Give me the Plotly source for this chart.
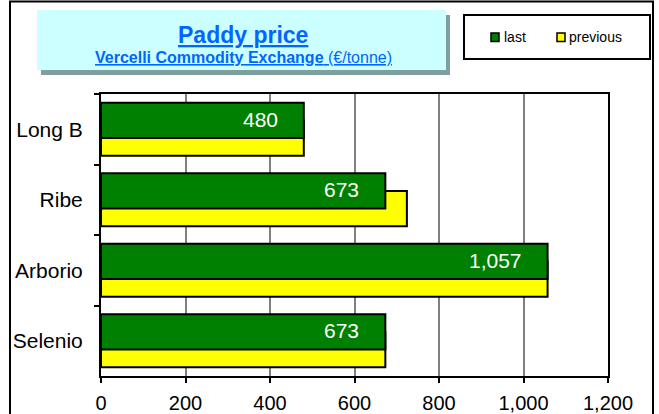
import plotly.graph_objects as go

# ---- data ----
categories = ["Long B", "Ribe", "Arborio", "Selenio"]
last_values = [480, 673, 1057, 673]
previous_values = [480, 724, 1057, 673]
x_tick_values = [0, 200, 400, 600, 800, 1000, 1200]
series_names = ["last", "previous"]
title_text = "Paddy price"
subtitle_bold = "Vercelli Commodity Exchange"
subtitle_unit = "(€/tonne)"

# ---- layout geometry (pixels) ----
W, H = 659, 414
ML, MR, MT, MB = 101, 51, 94, 38
PW, PH = W - ML - MR, H - MT - MB
FONT = "Arial, Liberation Sans, sans-serif"
GREEN = "#008000"
YELLOW = "#FFFF00"
BLUE = "#0066FF"


def fx(px):
    return (px - ML) / PW


def fy(py):
    return (H - MB - py) / PH


fig = go.Figure()
fig.add_trace(go.Bar(
    y=categories, x=previous_values, orientation="h", name=series_names[1],
    marker=dict(color=YELLOW, line=dict(color="black", width=2)),
    width=0.5, offset=-0.125, showlegend=False, hoverinfo="x+name",
))
fig.add_trace(go.Bar(
    y=categories, x=last_values, orientation="h", name=series_names[0],
    marker=dict(color=GREEN, line=dict(color="black", width=2)),
    width=0.5, offset=-0.375, showlegend=False, hoverinfo="x+name",
))

shapes = []
# outer chart frame
shapes.append(dict(type="rect", xref="paper", yref="paper",
                   x0=fx(10), x1=fx(653), y0=fy(1.5), y1=fy(420),
                   line=dict(color="black", width=2), fillcolor="rgba(0,0,0,0)"))
# title box shadow + box
shapes.append(dict(type="rect", xref="paper", yref="paper",
                   x0=fx(41), x1=fx(450), y0=fy(15), y1=fy(75),
                   line=dict(width=0), fillcolor="#7F9F9F"))
shapes.append(dict(type="rect", xref="paper", yref="paper",
                   x0=fx(37), x1=fx(446), y0=fy(10), y1=fy(70),
                   line=dict(width=0), fillcolor="#CCFFFF"))
# legend box
shapes.append(dict(type="rect", xref="paper", yref="paper",
                   x0=fx(464), x1=fx(650), y0=fy(15), y1=fy(59),
                   line=dict(color="black", width=2), fillcolor="white"))
# legend markers
for x0, col in [(491, GREEN), (557, YELLOW)]:
    shapes.append(dict(type="rect", xref="paper", yref="paper",
                       x0=fx(x0), x1=fx(x0 + 8), y0=fy(33), y1=fy(41.5),
                       line=dict(color="black", width=1.5), fillcolor=col))

annotations = []
annotations.append(dict(
    xref="paper", yref="paper", x=fx(243), y=fy(35), xanchor="center", yanchor="middle",
    text=f"<b>{title_text}</b>", showarrow=False,
    font=dict(family=FONT, size=23, color=BLUE, lineposition="under"),
))
annotations.append(dict(
    xref="paper", yref="paper", x=fx(243), y=fy(57), xanchor="center", yanchor="middle",
    text=f"<b>{subtitle_bold}</b> {subtitle_unit}", showarrow=False,
    font=dict(family=FONT, size=16, color=BLUE, lineposition="under"),
))
for x0, name in [(502, series_names[0]), (567, series_names[1])]:
    annotations.append(dict(
        xref="paper", yref="paper", x=fx(x0), y=fy(37), xanchor="left", yanchor="middle",
        text=name, showarrow=False, font=dict(family=FONT, size=14, color="black"),
    ))
# data labels on the "last" bars
for cat, v in zip(categories, last_values):
    annotations.append(dict(
        xref="x", yref="y", x=v, y=cat, xanchor="right", yanchor="middle",
        xshift=-24, yshift=10, text=f"{v:,}", showarrow=False,
        font=dict(family=FONT, size=21, color="white"),
    ))

fig.update_layout(
    width=W, height=H, autosize=False,
    margin=dict(l=ML, r=MR, t=MT, b=MB, pad=0),
    paper_bgcolor="white", plot_bgcolor="white",
    barmode="overlay",
    font=dict(family=FONT, color="black"),
    shapes=shapes, annotations=annotations,
    showlegend=False,
    xaxis=dict(
        range=[0, 1200], tickvals=x_tick_values, tickformat=",",
        showgrid=True, gridcolor="#808080", gridwidth=1.5,
        zeroline=False, showline=True, linecolor="black", linewidth=2, mirror=True,
        ticks="outside", ticklen=5, tickwidth=2, tickcolor="black",
        tickfont=dict(family=FONT, size=20, color="black"),
        ticklabelstandoff=3, fixedrange=True, automargin=False,
    ),
    yaxis=dict(
        categoryorder="array", categoryarray=categories, autorange="reversed",
        showgrid=False, zeroline=False,
        showline=True, linecolor="black", linewidth=2, mirror=True,
        ticks="outside", ticklen=5, tickwidth=2, tickcolor="black", tickson="boundaries",
        tickfont=dict(family=FONT, size=21, color="black"),
        ticklabelstandoff=12, fixedrange=True, automargin=False,
    ),
)

fig.write_html(
    "out.html",
    config={"displayModeBar": False},
    post_script="document.body.style.margin='0';document.body.style.overflow='hidden';",
)
